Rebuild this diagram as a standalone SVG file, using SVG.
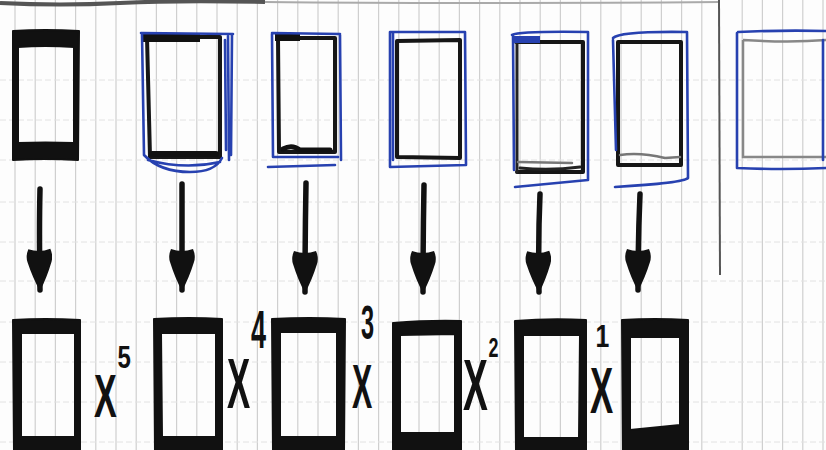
<svg xmlns="http://www.w3.org/2000/svg" width="826" height="450" viewBox="0 0 826 450">
<defs>
<style>
.vg{stroke:#cfcfcf;stroke-width:1.2}
.hg{stroke:#e2e2e2;stroke-width:1;stroke-dasharray:6 3}
.thick{fill:#111;fill-rule:evenodd;stroke:#111;stroke-width:2;stroke-linejoin:round}
.pen{fill:none;stroke:#161616;stroke-width:4;stroke-linecap:round;stroke-linejoin:round}
.pen2{fill:none;stroke:#222;stroke-width:3;stroke-linecap:round}
.grey{fill:none;stroke:#777;stroke-width:2.5;stroke-linecap:round}
.blue{fill:none;stroke:#2741b0;stroke-width:2.6;stroke-linecap:round;stroke-linejoin:round}
.shaft{fill:none;stroke:#111;stroke-width:5.5;stroke-linecap:round;marker-end:url(#head)}
.x{font-family:"Liberation Sans",Arial,sans-serif;font-weight:bold;fill:#111}
</style>
<marker id="head" markerUnits="userSpaceOnUse" viewBox="0 0 44 26" markerWidth="44" markerHeight="26" refX="42" refY="13" orient="auto">
<path d="M1,2 Q8,-1 14,1 Q30,6 43,13 Q30,20 14,25 Q8,27 1,24 Q5,13 1,2 Z" fill="#111"/>
</marker>
</defs>
<rect width="826" height="450" fill="#fdfdfd"/>
<g id="grid">
<path class="vg" d="M15,0V450M35.2,0V450M55.4,0V450M75.6,0V450M95.8,0V450M116,0V450M136.2,0V450M156.4,0V450M176.6,0V450M196.8,0V450M217,0V450M237.2,0V450M257.4,0V450M277.6,0V450M297.8,0V450M318,0V450M338.2,0V450M358.4,0V450M378.6,0V450M398.8,0V450M419,0V450M439.2,0V450M459.4,0V450M479.6,0V450M499.8,0V450M520,0V450M540.2,0V450M560.4,0V450M580.6,0V450M600.8,0V450M621,0V450M641.2,0V450M661.4,0V450M681.6,0V450M701.8,0V450M742.2,0V450M762.4,0V450M782.6,0V450M802.8,0V450M823,0V450"/>
<path class="hg" d="M0,80H826M0,120H826M0,160H826M0,202H826M0,242H826M0,281H826M0,322H826M0,362H826M0,402H826M0,442H826"/>
<path d="M0,3 Q60,6 120,3 T265,2" stroke="#555" stroke-width="4" fill="none"/>
<path d="M265,2 Q450,4 720,2" stroke="#aaa" stroke-width="2" fill="none"/>
<path d="M719,0 L720,275" stroke="#555" stroke-width="2" fill="none"/>
</g>
<g id="top1">
<path class="thick" d="M13,31 Q45,29 79,31 L78,160 Q45,158 13,160 Z M18,47 Q45,45 74,47 L74,143 Q45,142 18,143 Z"/>
</g>
<g id="top2">
<path class="pen" d="M147,37 L220,37 L220,157 L150,157 Z"/>
<path d="M143,34 L200,34 L200,42 L143,42 Z" fill="#111"/>
<path d="M152,154 L216,154" stroke="#111" stroke-width="6" stroke-linecap="round"/>
<path class="blue" d="M141,33 L233,34 M142,34 L144,155 Q160,172 190,172 Q215,172 222,158 M228,36 L229,160 M232,34 L231,155 M225,40 L226,150 M148,160 Q185,170 220,162"/>
</g>
<g id="top3">
<path class="pen" d="M278,38 L335,38 L335,152 L279,152 Z"/>
<path d="M275,34 L300,34 L300,41 L275,41 Z" fill="#111"/>
<path d="M283,149 Q292,144 300,150 L330,150" stroke="#111" stroke-width="5" stroke-linecap="round" fill="none"/>
<path class="blue" d="M272,33 L340,34 M272,34 L273,157 L338,157 M340,35 L341,160 M268,167 L335,165"/>
</g>
<g id="top4">
<path class="pen" d="M397,41 L460,40 L460,158 L397,157 Z"/>
<path class="blue" d="M390,32 L465,32 L466,165 L390,167 Z M393,33 L393,160"/>
</g>
<g id="top5">
<path class="pen" d="M516,42 L583,42 L583,172 L517,172"/>
<path class="pen2" d="M517,42 L517,172"/>
<path class="grey" d="M518,162 L572,163"/>
<path class="pen2" d="M520,168 Q550,171 580,167"/>
<path class="blue" d="M512,35 Q520,31 588,32 L588,180 L515,187 M513,35 L514,170"/>
<path d="M514,36 L540,36 L540,43 L514,43 Z" fill="#2741b0"/>
</g>
<g id="top6">
<path class="pen" d="M618,42 L681,42 L681,165 L618,165 Z"/>
<path class="grey" d="M620,155 Q640,152 665,158 L680,157"/>
<path class="blue" d="M613,38 Q620,31 687,32 L688,178 Q683,183 615,187 M613,40 L616,150"/>
</g>
<g id="top7">
<path d="M743,40 Q790,43 826,40 M743,40 L743,157 L826,157" fill="none" stroke="#888" stroke-width="2.5"/>
<path class="blue" d="M738,32 Q780,30 826,31 M737,33 L737,168 Q780,170 826,168 M823,40 L823,160"/>
</g>
<g id="connectors">
<path class="shaft" d="M40,189 Q39,230 40,290"/>
<path class="shaft" d="M182,184 Q182,240 182,290"/>
<path class="shaft" d="M306,183 Q305,240 305,292"/>
<path class="shaft" d="M424,185 Q423,240 423,292"/>
<path class="shaft" d="M540,194 Q538,240 539,292"/>
<path class="shaft" d="M640,194 Q638,240 638,290"/>
</g>
<g id="bottom1">
<path class="thick" d="M13,320 Q45,318 80,320 L80,450 L14,450 Z M21,333 L75,333 L75,437 L21,437 Z"/>
</g>
<g id="bottom2">
<path class="thick" d="M154,319 Q190,317 222,319 L222,450 L155,450 Z M161,333 L216,333 L216,437 L162,437 Z"/>
</g>
<g id="bottom3">
<path class="thick" d="M272,319 Q310,317 345,319 L344,450 L273,450 Z M280,332 L337,332 L337,437 L280,437 Z"/>
</g>
<g id="bottom4">
<path class="thick" d="M393,323 Q430,320 461,321 L461,450 L393,450 Z M400,335 L455,334 L455,433 L400,433 Z"/>
</g>
<g id="bottom5">
<path class="thick" d="M515,321 Q550,318 586,320 L586,450 L516,450 Z M523,335 L580,335 L579,438 L523,438 Z"/>
</g>
<g id="bottom6">
<path class="thick" d="M622,320 Q655,318 688,320 L688,450 L623,450 Z M630,337 L680,337 L680,425 L630,430 Z"/>
</g>
<g id="label-x5">
<text class="x" font-size="62" transform="translate(94,417) scale(0.55,1)">X</text>
<text class="x" font-size="32" transform="translate(117.5,368) scale(0.75,1)">5</text>
</g>
<g id="label-x4">
<text class="x" font-size="62" transform="translate(227,408) scale(0.56,1.15)">X</text>
<text class="x" font-size="53" transform="translate(251,348) scale(0.51,1)">4</text>
</g>
<g id="label-x3">
<text class="x" font-size="62" transform="translate(352,408) scale(0.49,1.02)">X</text>
<text class="x" font-size="49" transform="translate(361,339) scale(0.48,1)">3</text>
</g>
<g id="label-x2">
<text class="x" font-size="62" transform="translate(463,410) scale(0.6,1.17)">X</text>
<text class="x" font-size="28" transform="translate(488.5,357) scale(0.64,1)">2</text>
</g>
<g id="label-x1">
<text class="x" font-size="62" transform="translate(590,413) scale(0.56,1.04)">X</text>
<text class="x" font-size="31" transform="translate(595.5,347) scale(0.8,1)">1</text>
</g>
</svg>
